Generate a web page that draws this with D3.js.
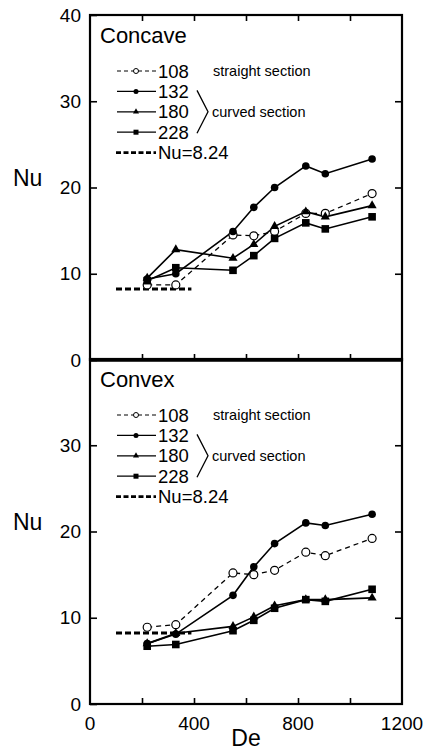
<!DOCTYPE html>
<html>
<head>
<meta charset="utf-8">
<script src="https://cdn.jsdelivr.net/npm/d3@7"></script>
<style>
  body { margin: 0; background: #fff; }
  svg { display: block; font-family: "Liberation Sans", Arial, sans-serif; }
</style>
</head>
<body>
<svg id="chart" width="428" height="754"></svg>
<script>
// De values shared by all series
const de = [220, 330, 550, 630, 710, 830, 905, 1085];

// Concave (upper panel)
const concave108 = [8.7, 8.7, 14.5, 14.4, 14.9, 17.0, 17.0, 19.3];
const concave132 = [9.4, 10.0, 14.9, 17.7, 20.0, 22.5, 21.6, 23.3];
const concave180 = [9.5, 12.8, 11.8, 13.4, 15.5, 17.2, 16.6, 17.9];
const concave228 = [9.2, 10.7, 10.4, 12.1, 14.1, 15.9, 15.2, 16.6];

// Convex (lower panel)
const convex108 = [8.9, 9.2, 15.2, 15.0, 15.5, 17.6, 17.2, 19.2];
const convex132 = [7.0, 8.1, 12.6, 15.9, 18.6, 21.0, 20.7, 22.0];
const convex180 = [7.0, 8.2, 9.0, 10.1, 11.4, 12.1, 12.1, 12.3];
const convex228 = [6.7, 6.9, 8.5, 9.7, 11.1, 12.1, 11.9, 13.3];

const nuLaminar = 8.24;
const nuLaminarDe = [100, 390];

const xTicks = [0, 200, 400, 600, 800, 1000, 1200];
const xLabels = [0, 400, 800, 1200];
const yTicksTop = [0, 10, 20, 30, 40];
const yTicksBottom = [0, 10, 20, 30];

const svg = d3.select("#chart");
const left = 90, right = 402;

const x = d3.scaleLinear().domain([0, 1200]).range([left, right]);
const yTop = d3.scaleLinear().domain([0, 40]).range([360, 15]);
const yBot = d3.scaleLinear().domain([0, 40]).range([704, 359]);

const styles = {
  "108": { dash: "5,4", marker: "open" },
  "132": { dash: null, marker: "circle" },
  "180": { dash: null, marker: "triangle" },
  "228": { dash: null, marker: "square" }
};

function drawMarker(g, type, cx, cy) {
  if (type === "open") {
    g.append("circle").attr("cx", cx).attr("cy", cy).attr("r", 4)
      .attr("fill", "#fff").attr("stroke", "#000").attr("stroke-width", 1.2);
  } else if (type === "circle") {
    g.append("circle").attr("cx", cx).attr("cy", cy).attr("r", 3.8).attr("fill", "#000");
  } else if (type === "triangle") {
    g.append("path").attr("d", d3.symbol(d3.symbolTriangle, 36)())
      .attr("transform", `translate(${cx},${cy})`).attr("fill", "#000");
  } else {
    g.append("rect").attr("x", cx - 3.8).attr("y", cy - 3.8)
      .attr("width", 7.6).attr("height", 7.6).attr("fill", "#000");
  }
}

function drawPanel(y, title, series, yTicks, showTopTicks) {
  const g = svg.append("g");

  // laminar line
  g.append("line")
    .attr("x1", x(nuLaminarDe[0])).attr("x2", x(nuLaminarDe[1]))
    .attr("y1", y(nuLaminar)).attr("y2", y(nuLaminar))
    .attr("stroke", "#000").attr("stroke-width", 3).attr("stroke-dasharray", "6,3");

  const line = d3.line().x((d, i) => x(de[i])).y(d => y(d));
  Object.keys(series).forEach(k => {
    g.append("path").datum(series[k]).attr("d", line)
      .attr("fill", "none").attr("stroke", "#000")
      .attr("stroke-width", styles[k].dash ? 1.3 : 1.6)
      .attr("stroke-dasharray", styles[k].dash);
  });
  Object.keys(series).forEach(k => {
    series[k].forEach((v, i) => drawMarker(g, styles[k].marker, x(de[i]), y(v)));
  });

  // axes
  const yl = g.append("g").attr("transform", `translate(${left},0)`)
    .call(d3.axisLeft(y).tickValues(yTicks).tickSize(-7).tickPadding(9));
  yl.selectAll("text").style("font-size", "19px").attr("fill", "#000");
  g.append("g").attr("transform", `translate(${right},0)`)
    .call(d3.axisRight(y).tickValues(yTicks.filter(v => v > 0 && v < 40)).tickSize(-7).tickFormat(""));
  if (showTopTicks) {
    g.append("g").attr("transform", `translate(0,${y(40)})`)
      .call(d3.axisTop(x).tickValues(xTicks.slice(1, -1)).tickSize(-6).tickFormat(""));
  }
  g.append("g").attr("transform", `translate(0,${y(0)})`)
    .call(d3.axisBottom(x).tickValues(xTicks.slice(1, -1)).tickSize(-6).tickFormat(""));
  g.selectAll(".domain").remove();
  g.selectAll(".tick line").attr("stroke", "#000").attr("stroke-width", 1.6);

  g.append("rect").attr("x", left).attr("y", y(40))
    .attr("width", right - left).attr("height", y(0) - y(40))
    .attr("fill", "none").attr("stroke", "#000").attr("stroke-width", 2.2);

  g.append("text").attr("x", 13).attr("y", y(20) - 10).attr("dy", "0.35em")
    .style("font-size", "23px").text("Nu");

  g.append("text").attr("x", 100).attr("y", y(40) + 28)
    .style("font-size", "22px").text(title);

  // legend
  const ly0 = y(40) + 56, dy = 20.4;
  const legendKeys = ["108", "132", "180", "228"];
  legendKeys.forEach((k, i) => {
    const ly = ly0 + i * dy;
    g.append("line").attr("x1", 117).attr("x2", 156).attr("y1", ly).attr("y2", ly)
      .attr("stroke", "#000").attr("stroke-width", k === "108" ? 1 : 1.2)
      .attr("stroke-dasharray", k === "108" ? "4,3" : null);
    if (k === "108") {
      g.append("circle").attr("cx", 136).attr("cy", ly).attr("r", 2.5)
        .attr("fill", "#fff").attr("stroke", "#000").attr("stroke-width", 1);
    } else if (k === "132") {
      g.append("circle").attr("cx", 136).attr("cy", ly).attr("r", 2.5).attr("fill", "#000");
    } else if (k === "180") {
      g.append("path").attr("d", d3.symbol(d3.symbolTriangle, 16)())
        .attr("transform", `translate(136,${ly})`);
    } else {
      g.append("rect").attr("x", 133.5).attr("y", ly - 2.5).attr("width", 5).attr("height", 5);
    }
    g.append("text").attr("x", 158).attr("y", ly).attr("dy", "0.36em")
      .style("font-size", "18.5px").text(k);
  });
  const lyN = ly0 + 4 * dy;
  g.append("line").attr("x1", 116).attr("x2", 156).attr("y1", lyN).attr("y2", lyN)
    .attr("stroke", "#000").attr("stroke-width", 2.6).attr("stroke-dasharray", "5,2.5");
  g.append("text").attr("x", 158).attr("y", lyN).attr("dy", "0.36em")
    .style("font-size", "18.5px").text("Nu=" + nuLaminar);

  g.append("text").attr("x", 213).attr("y", ly0).attr("dy", "0.35em")
    .style("font-size", "14.5px").text("straight section");
  g.append("path")
    .attr("d", `M197,${ly0 + dy - 1}L208,${ly0 + 2 * dy}L197,${ly0 + 3 * dy + 1}`)
    .attr("fill", "none").attr("stroke", "#000").attr("stroke-width", 1.3);
  g.append("text").attr("x", 212).attr("y", ly0 + 2 * dy).attr("dy", "0.35em")
    .style("font-size", "14.5px").text("curved section");
}

drawPanel(yTop, "Concave",
  { "108": concave108, "132": concave132, "180": concave180, "228": concave228 },
  yTicksTop, true);
drawPanel(yBot, "Convex",
  { "108": convex108, "132": convex132, "180": convex180, "228": convex228 },
  yTicksBottom, false);

// thick divider between panels
svg.append("line").attr("x1", left).attr("x2", right)
  .attr("y1", yTop(0)).attr("y2", yTop(0))
  .attr("stroke", "#000").attr("stroke-width", 3.5);

// x axis labels
svg.append("g").selectAll("text").data(xLabels).join("text")
  .attr("x", d => x(d)).attr("y", 723).attr("dy", "0.35em")
  .attr("text-anchor", "middle").style("font-size", "19px").text(d => d);
svg.append("text").attr("x", x(600)).attr("y", 738).attr("dy", "0.35em")
  .attr("text-anchor", "middle").style("font-size", "23px").text("De");
</script>
</body>
</html>
